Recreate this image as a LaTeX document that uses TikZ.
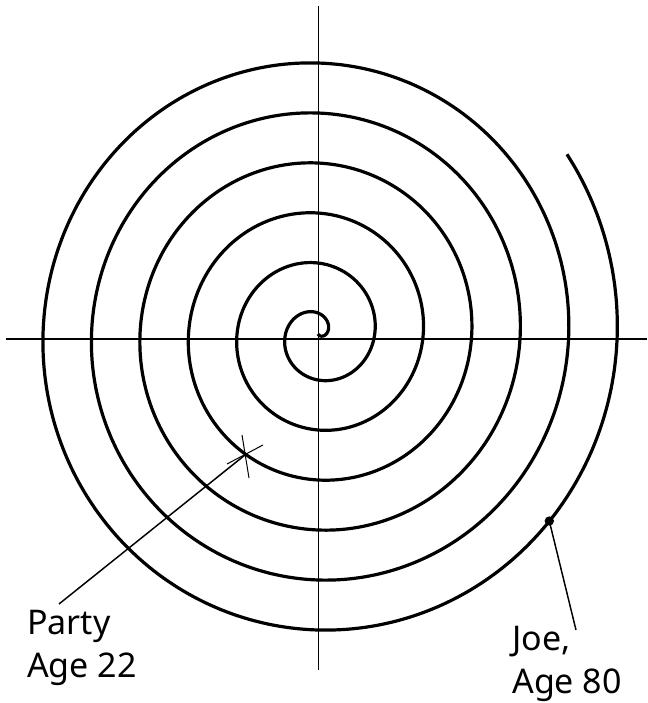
\documentclass[tikz,border=0pt]{standalone}
\usepackage{fontspec}
\setmainfont{Noto Sans}
\begin{document}
\begin{tikzpicture}[x=0.75pt,y=-0.75pt,
  axis/.style={line width=1.1pt},
  spiralline/.style={line width=2.4pt},
  leader/.style={line width=1.1pt},
  crossline/.style={line width=0.75pt},
  lbl/.style={font=\fontsize{25.5}{31.8}\selectfont,align=left,inner sep=0pt,anchor=base west}]
\useasboundingbox (0,0) rectangle (648,703);
% axes
\coordinate (hl) at (6,339);
\coordinate (hr) at (647,339);
\coordinate (vt) at (318.5,6);
\coordinate (vb) at (318.5,670);
\draw[axis] (hl) -- (hr);
\draw[axis] (vt) -- (vb);
% spiral
\draw[spiralline] plot[domain=-61:2195, samples=700, smooth, variable=\t]
  ({318 + 48.5*(\t/360+0.17)*cos(\t)}, {334 - 50*(\t/360+0.17)*sin(\t)});
% Party marker
\coordinate (party) at (245,455);
\coordinate (c1a) at (242,435);
\coordinate (c1b) at (249,478);
\coordinate (c2a) at (227,464);
\coordinate (c2b) at (263,445);
\draw[crossline] (c1a) -- (c1b);
\draw[crossline] (c2a) -- (c2b);
\coordinate (partyend) at (59,604);
\draw[leader] (party) -- (partyend);
\node[lbl] (partylbl) at (27,677) {Party\\Age 22};
% Joe marker
\coordinate (joe) at (549.3,521);
\fill (joe) circle[radius=3.5pt];
\coordinate (joeend) at (576,630);
\draw[leader] (joe) -- (joeend);
\node[lbl] (joelbl) at (512,693.3) {Joe,\\Age 80};
\end{tikzpicture}
\end{document}
